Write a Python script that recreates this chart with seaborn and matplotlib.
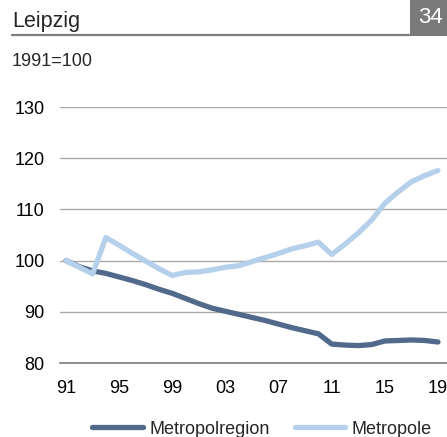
import matplotlib
matplotlib.use("Agg")
import matplotlib.pyplot as plt
import seaborn as sns
import pandas as pd
from matplotlib.patches import Rectangle
from matplotlib.lines import Line2D

# Population index, 1991 = 100
years = list(range(1991, 2020))
metropolregion = [100.0, 98.8, 98.0, 97.5, 96.8, 96.1, 95.3, 94.4, 93.6, 92.6,
                  91.6, 90.7, 90.1, 89.5, 88.9, 88.3, 87.6, 86.9, 86.3, 85.7,
                  83.7, 83.5, 83.4, 83.6, 84.3, 84.4, 84.5, 84.4, 84.1]
metropole = [100.0, 98.7, 97.4, 104.5, 103.0, 101.4, 99.9, 98.4, 97.1, 97.7,
             97.8, 98.2, 98.7, 99.0, 99.8, 100.6, 101.4, 102.3, 102.9, 103.6,
             101.2, 103.2, 105.4, 107.9, 111.2, 113.4, 115.4, 116.6, 117.6]
series_names = ["Metropolregion", "Metropole"]
colors = ["#51698a", "#b5d0ea"]
xtick_years = [1991, 1995, 1999, 2003, 2007, 2011, 2015, 2019]
xtick_labels = ["91", "95", "99", "03", "07", "11", "15", "19"]
yticks = [80, 90, 100, 110, 120, 130]

df = pd.DataFrame({
    "Jahr": years * 2,
    "Index": metropolregion + metropole,
    "Reihe": [series_names[0]] * len(years) + [series_names[1]] * len(years),
})

sns.set_theme(style="white")
plt.rcParams["font.family"] = ["Liberation Sans", "DejaVu Sans"]

W, H = 447, 437
fig = plt.figure(figsize=(W / 100, H / 100), dpi=100)

# plot area in pixel coordinates
left_px, right_px, top_px, bottom_px = 60, 447, 107, 363
ax = fig.add_axes([left_px / W, 1 - bottom_px / H,
                   (right_px - left_px) / W, (bottom_px - top_px) / H])

sns.lineplot(data=df, x="Jahr", y="Index", hue="Reihe", hue_order=series_names,
             palette=colors, ax=ax, legend=False)
for line in ax.get_lines():
    line.set_linewidth(3.8)
    line.set_solid_capstyle("round")
    line.set_solid_joinstyle("round")

ax.set_xlim(1991 - 6 / 13.25, 2019 + 9 / 13.25)
ax.set_ylim(80, 130)
ax.set_xticks(xtick_years)
ax.set_xticklabels(xtick_labels)
ax.set_yticks(yticks)
ax.set_yticklabels([str(v) for v in yticks])
ax.tick_params(axis="both", length=0, labelsize=13, colors="black")
ax.tick_params(axis="y", pad=11)
ax.tick_params(axis="x", pad=12)
ax.set_xlabel("")
ax.set_ylabel("")
ax.grid(axis="y", color="#a9a9a9", linewidth=1.0)
ax.grid(axis="x", visible=False)
for side in ["top", "right", "left"]:
    ax.spines[side].set_visible(False)
ax.spines["bottom"].set_color("#7a7a7a")
ax.spines["bottom"].set_linewidth(1.2)
ax.set_axisbelow(True)
ax.set_facecolor("white")

# header
fig.text(12 / W, 1 - 27 / H, "Leipzig", fontsize=15.5, va="baseline", ha="left")
fig.add_artist(Line2D([12 / W, 410 / W], [1 - 35 / H, 1 - 35 / H],
                      color="#7f7f7f", linewidth=1.6))
fig.add_artist(Rectangle((410 / W, 1 - 36 / H), 37 / W, 36 / H,
                         facecolor="#7a7a7a", edgecolor="none"))
fig.text(430 / W, 1 - 23 / H, "34", fontsize=16, color="white",
         va="baseline", ha="center")
fig.text(12 / W, 1 - 66 / H, "1991=100", fontsize=13, va="baseline", ha="left")

# legend
handles = [Line2D([0], [0], color=c, linewidth=3.8, solid_capstyle="round")
           for c in colors]
fig.legend(handles, series_names, loc="center", bbox_to_anchor=(262 / W, 1 - 429 / H),
           ncol=2, frameon=False, fontsize=13, handlelength=2.8,
           handletextpad=0.35, columnspacing=1.4, borderpad=0, borderaxespad=0)

fig.savefig("out.png", dpi=100, facecolor="white")
